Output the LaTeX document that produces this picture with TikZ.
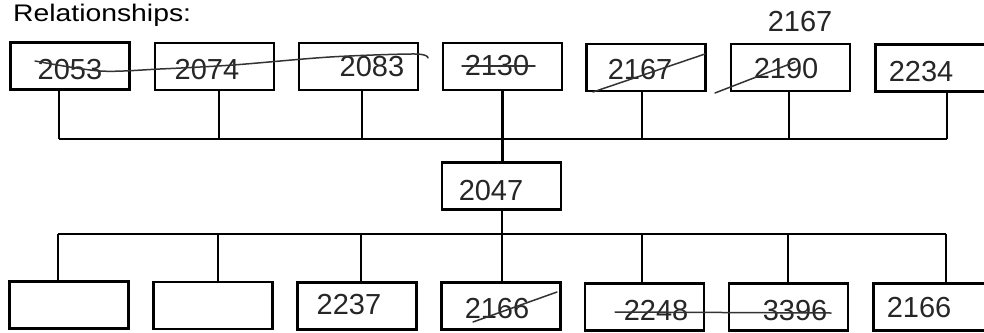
\documentclass[tikz,border=0pt]{standalone}
\usepackage{fontspec}
\setmainfont{Liberation Sans}
\begin{document}
\begin{tikzpicture}[x=1pt,y=-1pt,
  box/.style={draw, line width=2.1pt, minimum width=119pt, minimum height=47pt, inner sep=0pt},
  hand/.style={font=\fontsize{29}{29}\selectfont, inner sep=0pt, text=black!85},
  wire/.style={line width=2.1pt},
  strike/.style={line width=1.5pt, black!80, line cap=round}]
\useasboundingbox (0,0) rectangle (984,332);
% title
\node[anchor=base west, inner sep=0pt, font=\fontsize{24}{24}\selectfont] (title) at (13,21) {\scalebox{1.18}[1]{Relationships:}};
% top row
\node[box] (t1) at (70,66) {};
\node[box] (t2) at (214.5,66.2) {};
\node[box] (t3) at (358.5,66.5) {};
\node[box] (t4) at (502.5,66.7) {};
\node[box] (t5) at (646,67.2) {};
\node[box] (t6) at (790.5,67.5) {};
\node[box] (t7) at (935,68) {};
% centre
\node[box] (c) at (501.5,186) {};
% bottom row
\node[box] (b1) at (69,305) {};
\node[box] (b2) at (213,305.2) {};
\node[box] (b3) at (357,306) {};
\node[box] (b4) at (501,306) {};
\node[box] (b5) at (644.5,307) {};
\node[box] (b6) at (788.5,307) {};
\node[box] (b7) at (933,307) {};
% bus coordinates
\coordinate (u1) at (59,139);  \coordinate (u2) at (219,139);
\coordinate (u3) at (362,139); \coordinate (u4) at (502.5,139);
\coordinate (u5) at (642,139); \coordinate (u6) at (789,139);
\coordinate (u7) at (947,139);
\coordinate (d1) at (58,234);  \coordinate (d2) at (218,234);
\coordinate (d3) at (361,234); \coordinate (d4) at (502,234);
\coordinate (d5) at (642,234); \coordinate (d6) at (788,234);
\coordinate (d7) at (946,234);
% top connectors
\foreach \i in {1,...,7} {\draw[wire] (u\i |- t\i.south) -- (u\i);}
\draw[wire] (u1) -- (u7);
\draw[wire] (u4) -- (u4 |- c.north);
% bottom connectors
\draw[wire] (d4 |- c.south) -- (d4);
\draw[wire] (d1) -- (d7);
\foreach \i in {1,...,7} {\draw[wire] (d\i) -- (d\i |- b\i.north);}
% handwritten labels
\node[hand] (l1) at (70,70) {2053};
\node[hand] (l2) at (207,70) {2074};
\node[hand] (l3) at (372,67) {2083};
\node[hand] (l4) at (497,66) {2130};
\node[hand] (l5) at (640,70) {2167};
\node[hand] (l6) at (786,69) {2190};
\node[hand] (l7) at (921,72) {2234};
\node[hand] (l6b) at (800,22) {2167};
\node[hand] (lc) at (491,191) {2047};
\node[hand] (m3) at (349,305) {2237};
\node[hand] (m4) at (497,309) {2166};
\node[hand] (m5) at (656,311) {2248};
\node[hand] (m6) at (795,311) {3396};
\node[hand] (m7) at (919,308) {2166};
% strike-throughs
\draw[strike] plot[smooth] coordinates {(35,61) (100,71) (160,69) (233,65) (330,57) (415,54) (428,58)};
\draw[strike] (462,66) -- (535,66);
\draw[strike] (593,92) -- (705,54);
\draw[strike] (715,93) -- (795,62);
\draw[strike] (473,322) -- (557,292);
\draw[strike] (615,312) -- (831,313);
\end{tikzpicture}
\end{document}
